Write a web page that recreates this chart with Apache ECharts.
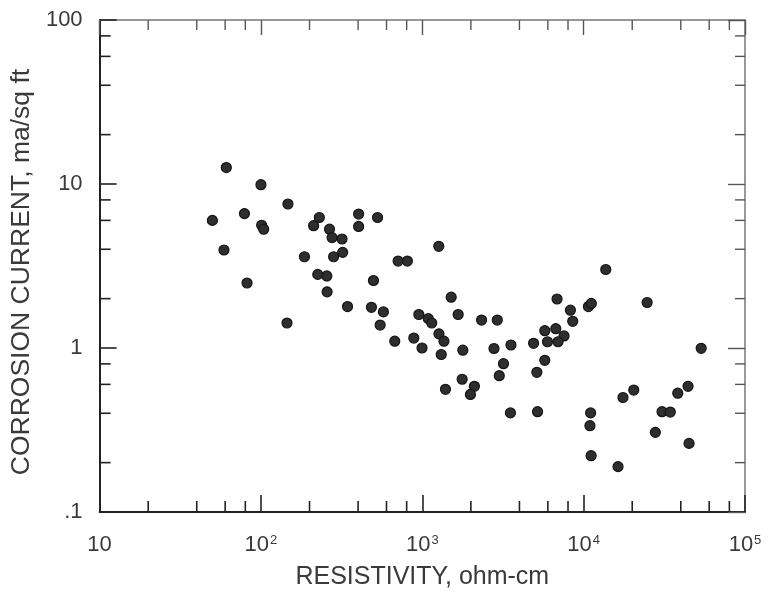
<!DOCTYPE html>
<html>
<head>
<meta charset="utf-8">
<script src="https://cdn.jsdelivr.net/npm/echarts@6/dist/echarts.min.js"></script>
<style>
  html, body { margin: 0; padding: 0; background: #ffffff; }
  #chart { width: 772px; height: 595px; }
</style>
</head>
<body>
<div id="chart"></div>
<script>
// Resistivity (ohm-cm) of each sample
const resistivity = [
  50, 61, 59, 79, 82, 100, 101, 104, 147, 145,
  186, 212, 230, 225, 256, 257, 266, 276, 318, 282,
  321, 344, 403, 403, 528, 498, 484, 574, 548, 675,
  708, 808, 886, 952, 996, 1089, 1144, 1265, 1268, 1362,
  1310, 1392, 1510, 1668, 1783, 1766, 2103, 1987, 2330, 2915,
  2782, 3185, 3000, 3543, 3518, 4893, 5128, 5744, 5179, 5744,
  6718, 7558, 6940, 5968, 6842, 8278, 8553, 10706, 11156, 13710,
  24737, 11046, 10937, 11125, 16331, 17531, 20442, 27818, 30605, 34435,
  38307, 44365, 45001, 53499
];
// Corrosion current (ma/sq ft) of each sample
const corrosionCurrent = [
  6.0, 12.6, 3.96, 6.6, 2.49, 9.9, 5.6, 5.3, 7.55, 1.42,
  3.6, 5.57, 6.25, 2.81, 2.75, 2.2, 5.3, 4.71, 4.62, 3.6,
  3.83, 1.79, 6.56, 5.51, 6.25, 2.58, 1.77, 1.66, 1.38, 1.1,
  3.39, 3.39, 1.15, 1.6, 1.0, 1.51, 1.42, 4.17, 1.22, 1.1,
  0.913, 0.56, 2.04, 1.6, 0.97, 0.645, 0.584, 0.521, 1.48, 1.48,
  0.993, 0.802, 0.678, 1.043, 0.402, 1.068, 0.711, 0.841, 0.409, 1.275,
  1.311, 1.184, 1.092, 1.092, 1.99, 1.7, 1.455, 1.79, 1.87, 3.01,
  1.894, 0.402, 0.336, 0.2205, 0.189, 0.499, 0.554, 0.306, 0.409, 0.407,
  0.53, 0.584, 0.262, 0.996
];

// Axis ticks
const xTickValues = [10, 100, 1000, 10000, 100000];
const xTickBase = ['10', '10', '10', '10', '10'];
const xTickExp = ['', '2', '3', '4', '5'];
const yTickValues = [0.1, 1, 10, 100];
const yTickLabels = ['.1', '1', '10', '100'];
const minorMultipliers = [2, 4, 6, 8];
const xDecades = [10, 100, 1000, 10000];
const yDecades = [0.1, 1, 10];

const xTitle = 'RESISTIVITY, ohm-cm';
const yTitle = 'CORROSION CURRENT, ma/sq ft';

const points = resistivity.map((r, i) => [r, corrosionCurrent[i]]);
const xMinor = [];
xDecades.forEach(d => minorMultipliers.forEach(m => xMinor.push([d * m, 1])));
const yMinor = [];
yDecades.forEach(d => minorMultipliers.forEach(m => yMinor.push([100, d * m])));

const FONT = 'Liberation Sans';
const TXT = '#3a3a3a';

function nearestIndex(vals, v) {
  let best = 0, bd = Infinity;
  vals.forEach((t, i) => {
    const d = Math.abs(Math.log10(t) - Math.log10(v));
    if (d < bd) { bd = d; best = i; }
  });
  return best;
}

const chart = echarts.init(document.getElementById('chart'), null, { renderer: 'canvas' });

const xAxisCommon = {
  type: 'log', logBase: 10, min: 10, max: 100000, splitNumber: 4,
  splitLine: { show: false }, minorTick: { show: false }
};
const yAxisCommon = {
  type: 'log', logBase: 10, min: 0.1, max: 100, splitNumber: 3,
  splitLine: { show: false }, minorTick: { show: false }
};

chart.setOption({
  backgroundColor: '#ffffff',
  animation: false,
  grid: { left: 97, right: 27, top: 20, bottom: 83, containLabel: false },
  xAxis: [
    Object.assign({}, xAxisCommon, {
      position: 'bottom',
      axisLine: { lineStyle: { color: '#222', width: 2 } },
      axisTick: { inside: true, length: 17, lineStyle: { color: '#222', width: 1.6 } },
      axisLabel: {
        margin: 22,
        color: TXT,
        fontFamily: FONT,
        fontSize: 22,
        formatter: function (v) {
          const i = nearestIndex(xTickValues, v);
          return xTickExp[i] ? '{b|' + xTickBase[i] + '}{s|' + xTickExp[i] + '}' : '{b|' + xTickBase[i] + '}';
        },
        rich: {
          b: { fontFamily: FONT, fontSize: 22, color: TXT },
          s: { fontFamily: FONT, fontSize: 13, color: TXT, verticalAlign: 'top', padding: [0, 0, 0, 1] }
        }
      },
      name: xTitle,
      nameLocation: 'middle',
      nameGap: 53,
      nameTextStyle: { fontFamily: FONT, fontSize: 25, color: TXT }
    }),
    Object.assign({}, xAxisCommon, {
      position: 'top',
      axisLine: { lineStyle: { color: '#777', width: 1.5 } },
      axisTick: { inside: true, length: 15, lineStyle: { color: '#555', width: 1.4 } },
      axisLabel: { show: false }
    })
  ],
  yAxis: [
    Object.assign({}, yAxisCommon, {
      position: 'left',
      axisLine: { lineStyle: { color: '#222', width: 2 } },
      axisTick: { inside: true, length: 17, lineStyle: { color: '#222', width: 1.6 } },
      axisLabel: {
        margin: 17,
        color: TXT,
        fontFamily: FONT,
        fontSize: 22,
        formatter: function (v) { return yTickLabels[nearestIndex(yTickValues, v)]; }
      },
      name: yTitle,
      nameLocation: 'middle',
      nameGap: 62,
      nameRotate: 90,
      nameTextStyle: { fontFamily: FONT, fontSize: 26.5, color: TXT, padding: [0, 12, 0, 0] }
    }),
    Object.assign({}, yAxisCommon, {
      position: 'right',
      axisLine: { lineStyle: { color: '#777', width: 1.5 } },
      axisTick: { inside: true, length: 17, lineStyle: { color: '#555', width: 1.4 } },
      axisLabel: { show: false }
    })
  ],
  series: [
    {
      type: 'custom',
      silent: true,
      clip: false,
      z: 1,
      data: xMinor,
      renderItem: function (params, api) {
        const p = api.coord([api.value(0), api.value(1)]);
        const cs = params.coordSys;
        return {
          type: 'group',
          children: [
            { type: 'line', shape: { x1: p[0], y1: cs.y + cs.height, x2: p[0], y2: cs.y + cs.height - 11 },
              style: { stroke: '#222', lineWidth: 1.6 } },
            { type: 'line', shape: { x1: p[0], y1: cs.y, x2: p[0], y2: cs.y + 10 },
              style: { stroke: '#555', lineWidth: 1.4 } }
          ]
        };
      }
    },
    {
      type: 'custom',
      silent: true,
      clip: false,
      z: 1,
      data: yMinor,
      renderItem: function (params, api) {
        const p = api.coord([api.value(0), api.value(1)]);
        const cs = params.coordSys;
        return {
          type: 'group',
          children: [
            { type: 'line', shape: { x1: cs.x, y1: p[1], x2: cs.x + 11, y2: p[1] },
              style: { stroke: '#222', lineWidth: 1.6 } },
            { type: 'line', shape: { x1: cs.x + cs.width, y1: p[1], x2: cs.x + cs.width - 10, y2: p[1] },
              style: { stroke: '#555', lineWidth: 1.4 } }
          ]
        };
      }
    },
    {
      type: 'scatter',
      z: 3,
      symbol: 'circle',
      symbolSize: 10,
      itemStyle: { color: '#2e2e2e', borderColor: '#151515', borderWidth: 1.2, opacity: 1 },
      data: points
    }
  ]
});
</script>
</body>
</html>
